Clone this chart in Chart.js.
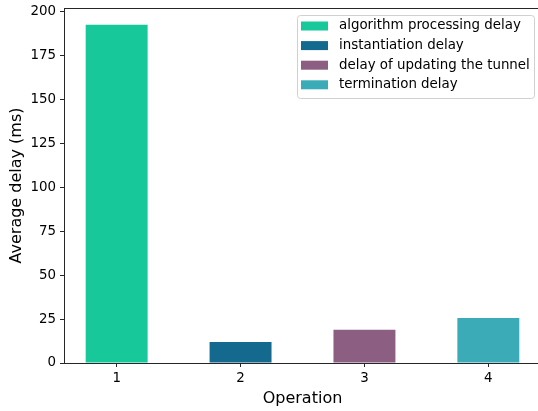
<!DOCTYPE html>
<html lang="en">
<head>
    <meta charset="UTF-8">
    <title>Average delay per operation</title>
    <script src="https://cdn.jsdelivr.net/npm/chart.js"></script>
    <style>
        html, body { margin: 0; padding: 0; background: #ffffff; overflow: hidden; }
        .chart-box { width: 541px; height: 411px; }
    </style>
</head>
<body>
    <div class="chart-box">
        <canvas id="myChart"></canvas>
    </div>
    <script>
        const operations = [1, 2, 3, 4];
        const delays = [192.6, 12.0, 18.9, 25.7];
        const seriesNames = ['algorithm processing delay', 'instantiation delay', 'delay of updating the tunnel', 'termination delay'];
        const barColors = ['#17c89a', '#13698e', '#8b5e82', '#3aabb7'];
        const yTicks = [0, 25, 50, 75, 100, 125, 150, 175, 200];

        const font = 'DejaVu Sans';

        // frame around the plot + legend drawn inside the axes (like matplotlib)
        const framePlugin = {
            id: 'frame',
            afterDraw(chart) {
                const ctx = chart.ctx;
                const a = chart.chartArea;
                ctx.save();
                ctx.strokeStyle = '#262626';
                ctx.lineWidth = 1;
                ctx.strokeRect(Math.round(a.left) + 0.5, Math.round(a.top) + 0.5, Math.round(a.right - a.left), Math.round(a.bottom - a.top));

                // legend
                const x0 = a.right - 244, y0 = a.top + 7, w = 237, h = 83;
                ctx.beginPath();
                ctx.roundRect(x0 + 0.5, y0 + 0.5, w, h, 3);
                ctx.fillStyle = 'rgba(255,255,255,0.8)';
                ctx.fill();
                ctx.strokeStyle = '#d0d0d0';
                ctx.stroke();
                ctx.font = '13.4px "' + font + '"';
                ctx.textBaseline = 'middle';
                chart.data.datasets.forEach((ds, i) => {
                    const cy = y0 + 11 + i * 19.6;
                    ctx.fillStyle = ds.backgroundColor;
                    ctx.fillRect(x0 + 4, cy - 4.5, 27, 9);
                    ctx.fillStyle = '#000';
                    ctx.fillText(ds.label, x0 + 42, cy);
                });
                ctx.restore();
            }
        };

        new Chart(document.getElementById('myChart'), {
            type: 'bar',
            data: {
                datasets: seriesNames.map((name, i) => ({
                    label: name,
                    data: [{ x: operations[i], y: delays[i] }],
                    backgroundColor: barColors[i],
                    borderWidth: 0,
                    inflateAmount: 0,
                    grouped: false,
                    categoryPercentage: 1,
                    barPercentage: 0.5
                }))
            },
            options: {
                responsive: true,
                maintainAspectRatio: false,
                animation: false,
                layout: { padding: { top: 8, right: 0, left: 0, bottom: 0 } },
                plugins: { legend: { display: false }, tooltip: { enabled: false } },
                scales: {
                    x: {
                        type: 'linear',
                        offset: false,
                        min: 0.575,
                        max: 4.425,
                        afterFit: s => { s.height = 48; s.paddingLeft = 0; s.paddingRight = 0; },
                        afterBuildTicks: s => { s.ticks = operations.map(v => ({ value: v })); },
                        ticks: { color: '#000', font: { family: font, size: 13.4 }, padding: 3 },
                        grid: { display: true, offset: false, drawOnChartArea: false, drawTicks: true, tickLength: 4, color: '#262626' },
                        border: { display: false },
                        title: { display: true, text: 'Operation', color: '#000', font: { family: font, size: 16 }, padding: { top: 0, bottom: 3 } }
                    },
                    y: {
                        min: 0,
                        max: 202.2,
                        afterFit: s => { s.width = 64; s.paddingTop = 0; s.paddingBottom = 0; },
                        afterBuildTicks: s => { s.ticks = yTicks.map(v => ({ value: v })); },
                        ticks: { color: '#000', font: { family: font, size: 13.4 }, padding: 4 },
                        grid: { display: true, drawOnChartArea: false, drawTicks: true, tickLength: 4, color: '#262626' },
                        border: { display: false },
                        title: { display: true, text: 'Average delay (ms)', color: '#000', font: { family: font, size: 16 }, padding: { top: 7, bottom: 0 } }
                    }
                }
            },
            plugins: [framePlugin]
        });
    </script>
</body>
</html>
